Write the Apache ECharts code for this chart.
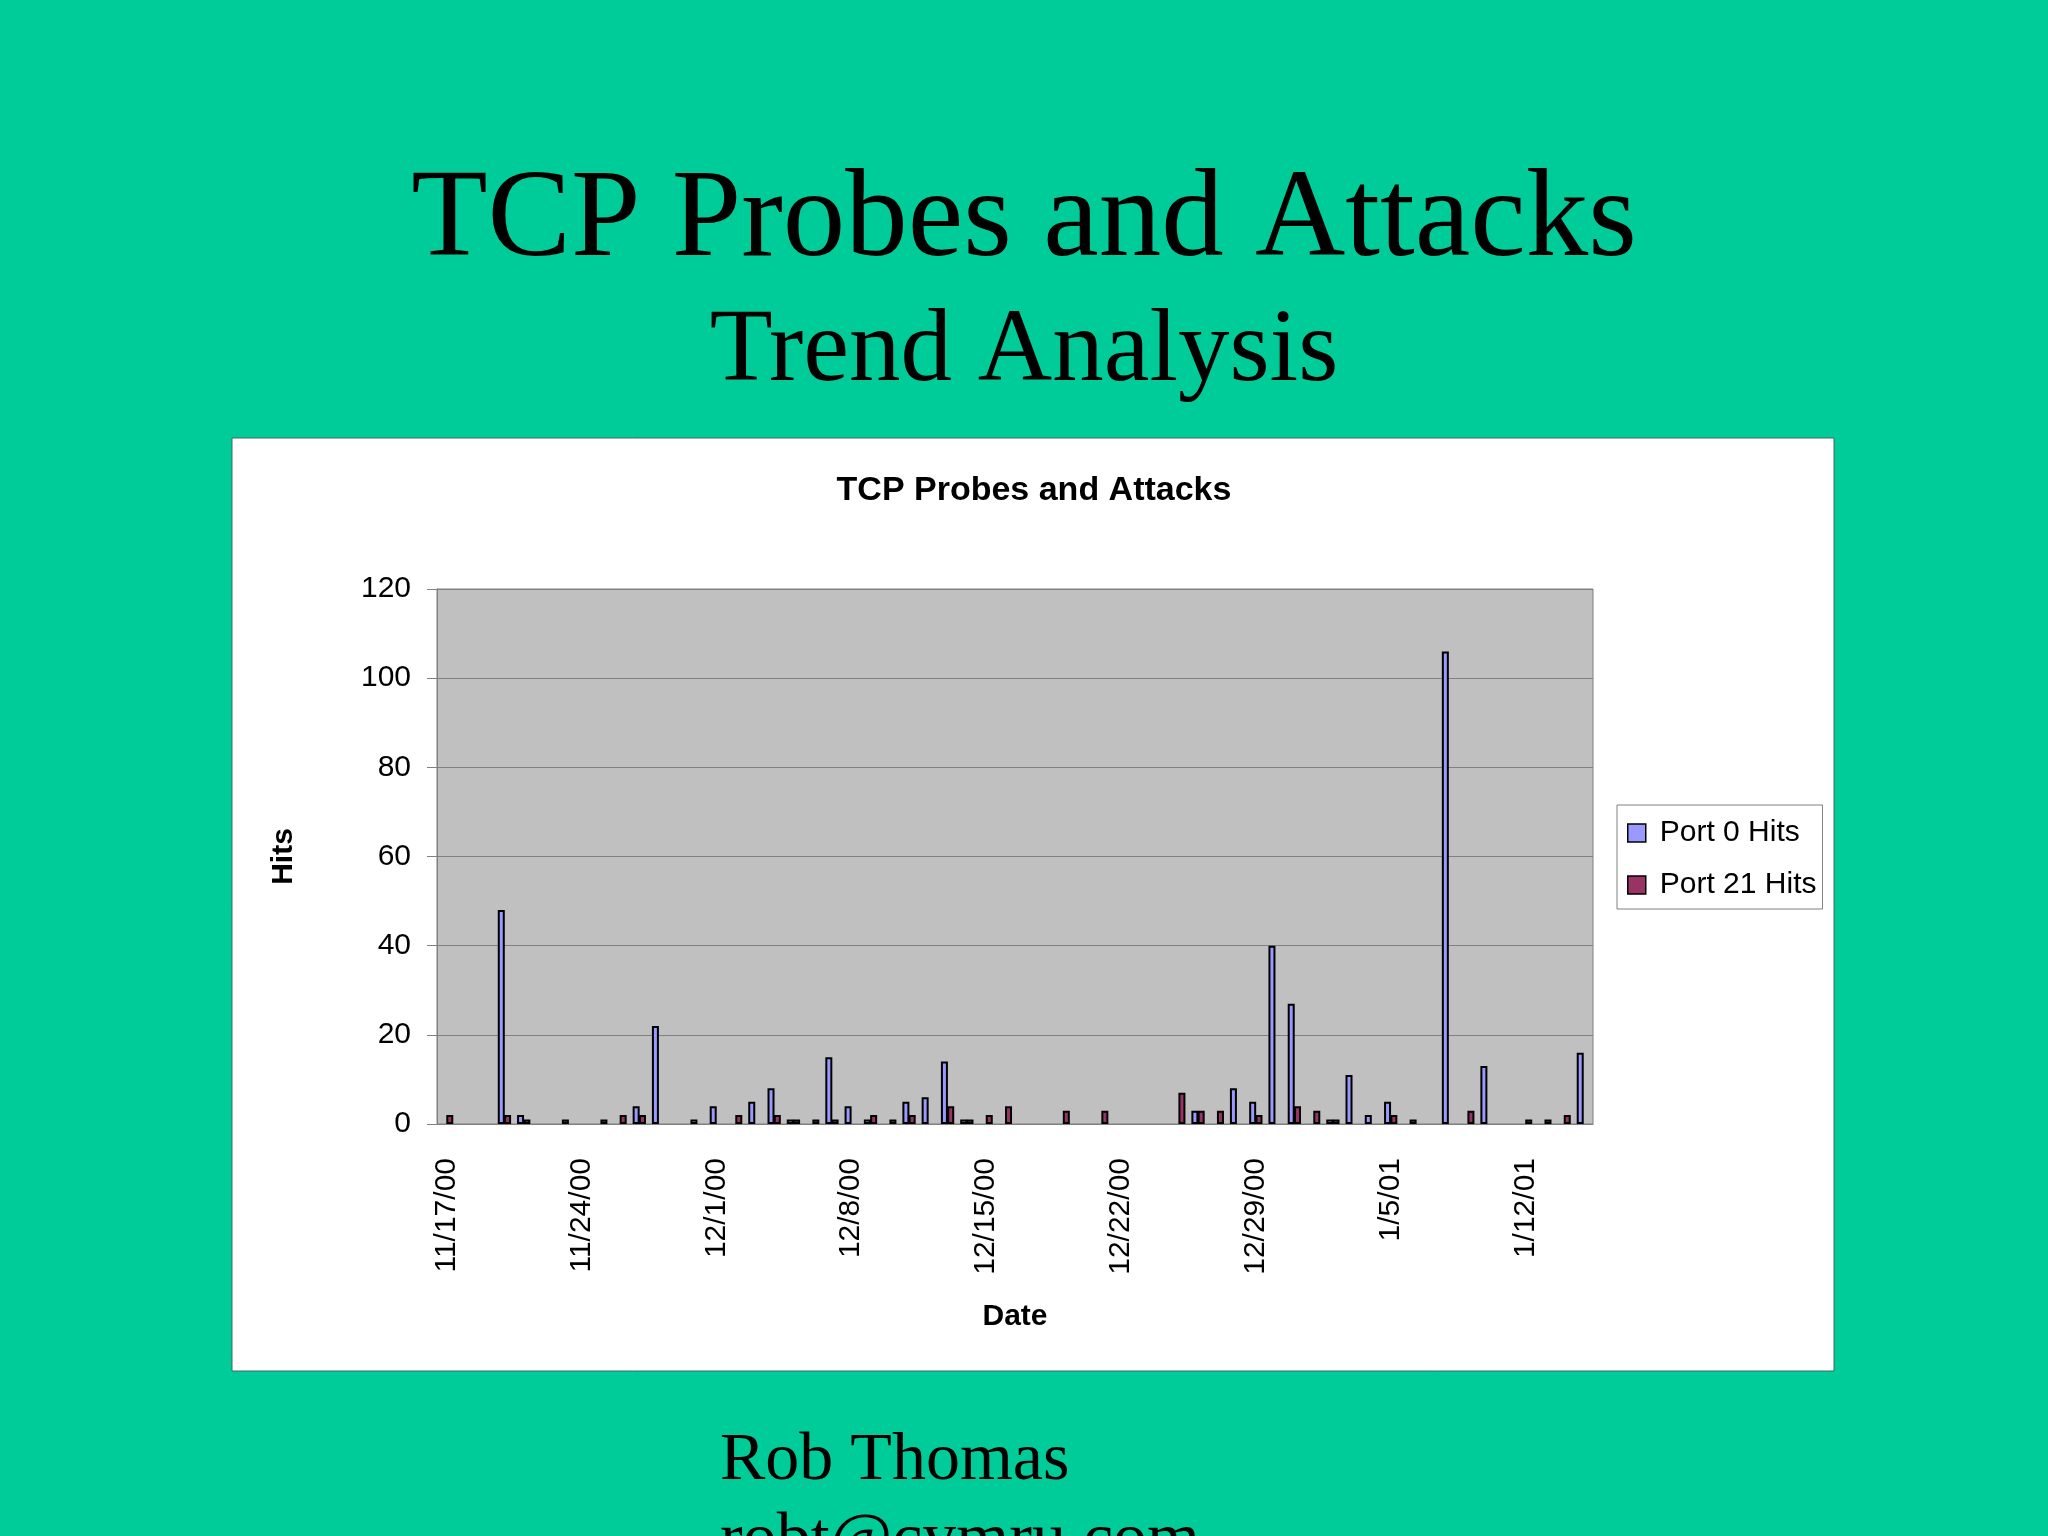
<!DOCTYPE html>
<html>
<head>
<meta charset="utf-8">
<title>TCP Probes and Attacks</title>
<script src="https://cdn.jsdelivr.net/npm/echarts@6/dist/echarts.min.js"></script>
<style>
  html, body { margin: 0; padding: 0; background: #00CC99; }
  #chart { width: 2048px; height: 1536px; }
</style>
</head>
<body>
<div id="chart"></div>
<script>
// one category per day, 11/17/00 .. 1/15/01
const dates = [
  '11/17/00', '11/18/00', '11/19/00', '11/20/00', '11/21/00', '11/22/00', '11/23/00',
  '11/24/00', '11/25/00', '11/26/00', '11/27/00', '11/28/00', '11/29/00', '11/30/00',
  '12/1/00', '12/2/00', '12/3/00', '12/4/00', '12/5/00', '12/6/00', '12/7/00',
  '12/8/00', '12/9/00', '12/10/00', '12/11/00', '12/12/00', '12/13/00', '12/14/00',
  '12/15/00', '12/16/00', '12/17/00', '12/18/00', '12/19/00', '12/20/00', '12/21/00',
  '12/22/00', '12/23/00', '12/24/00', '12/25/00', '12/26/00', '12/27/00', '12/28/00',
  '12/29/00', '12/30/00', '12/31/00', '1/1/01', '1/2/01', '1/3/01', '1/4/01',
  '1/5/01', '1/6/01', '1/7/01', '1/8/01', '1/9/01', '1/10/01', '1/11/01',
  '1/12/01', '1/13/01', '1/14/01', '1/15/01'
];

// Port 0 hits per day
const port0Hits = [
  0, 0, 0, 48, 2, 0, 0,
  0, 0, 0, 4, 22, 0, 1,
  4, 0, 5, 8, 1, 0, 15,
  4, 1, 0, 5, 6, 14, 1,
  0, 0, 0, 0, 0, 0, 0,
  0, 0, 0, 0, 3, 0, 8,
  5, 40, 27, 0, 1, 11, 2,
  5, 0, 0, 106, 0, 13, 0,
  0, 0, 0, 16
];

// Port 21 hits per day
const port21Hits = [
  2, 0, 0, 2, 1, 0, 1,
  0, 1, 2, 2, 0, 0, 0,
  0, 2, 0, 2, 1, 1, 1,
  0, 2, 1, 2, 0, 4, 1,
  2, 4, 0, 0, 3, 0, 3,
  0, 0, 0, 7, 3, 3, 0,
  2, 0, 4, 3, 1, 0, 0,
  2, 1, 0, 0, 3, 0, 0,
  1, 1, 2, 0
];

const yTicks = { min: 0, max: 120, step: 20 };

const SERIF = '"Liberation Serif", "Times New Roman", serif';
const SANS = '"Liberation Sans", Arial, sans-serif';

// empty days draw no bar
const noZero = arr => arr.map(v => (v === 0 ? '-' : v));

const chart = echarts.init(document.getElementById('chart'), null, { renderer: 'canvas' });

const option = {
  backgroundColor: '#00CC99',
  animation: false,
  graphic: [
    // white chart box
    {
      type: 'rect', z: -10,
      shape: { x: 232, y: 438, width: 1602, height: 933 },
      style: { fill: '#ffffff', stroke: '#3d6b60', lineWidth: 1 }
    },
    {
      type: 'text', z: 10,
      style: { text: 'TCP Probes and Attacks', x: 1024, y: 222, textAlign: 'center', textVerticalAlign: 'middle',
        font: '125px ' + SERIF, fill: '#000' }
    },
    {
      type: 'text', z: 10,
      style: { text: 'Trend Analysis', x: 1024, y: 353, textAlign: 'center', textVerticalAlign: 'middle',
        font: '103px ' + SERIF, fill: '#000' }
    },
    {
      type: 'text', z: 10,
      style: { text: 'TCP Probes and Attacks', x: 1034, y: 491, textAlign: 'center', textVerticalAlign: 'middle',
        font: 'bold 34px ' + SANS, fill: '#000' }
    },
    {
      type: 'text', z: 10,
      style: { text: 'Rob Thomas', x: 720, y: 1461, textAlign: 'left', textVerticalAlign: 'middle',
        font: '68px ' + SERIF, fill: '#000' }
    },
    {
      type: 'text', z: 10,
      style: { text: 'robt@cymru.com', x: 720, y: 1541, textAlign: 'left', textVerticalAlign: 'middle',
        font: '68px ' + SERIF, fill: '#000' }
    }
  ],
  legend: {
    data: ['Port 0 Hits', 'Port 21 Hits'],
    orient: 'vertical',
    left: 1617,
    top: 805,
    icon: 'rect',
    itemWidth: 18,
    itemHeight: 18,
    itemGap: 22,
    backgroundColor: '#ffffff',
    borderColor: '#808080',
    borderWidth: 1,
    padding: [13, 6, 9, 10],
    itemStyle: { borderColor: '#000', borderWidth: 1.5 },
    textStyle: { fontSize: 30, fontFamily: SANS, color: '#000', lineHeight: 30, padding: [0, 0, 0, 9] }
  },
  grid: {
    left: 437, top: 589, width: 1156, height: 535,
    show: true, backgroundColor: '#C0C0C0', borderColor: '#808080', borderWidth: 1
  },
  xAxis: {
    type: 'category',
    data: dates,
    name: 'Date',
    nameLocation: 'middle',
    nameGap: 178,
    nameTextStyle: { fontSize: 30, fontWeight: 'bold', fontFamily: SANS, color: '#000' },
    axisLine: { lineStyle: { color: '#808080', width: 1 } },
    axisTick: { interval: 6, length: 10, lineStyle: { color: '#808080' } },
    axisLabel: { interval: 6, rotate: 90, margin: 34, fontSize: 30, fontFamily: SANS, color: '#000' },
    splitLine: { show: false }
  },
  yAxis: {
    type: 'value',
    min: yTicks.min,
    max: yTicks.max,
    interval: yTicks.step,
    name: 'Hits',
    nameLocation: 'middle',
    nameGap: 138,
    nameTextStyle: { fontSize: 30, fontWeight: 'bold', fontFamily: SANS, color: '#000' },
    axisLine: { show: true, lineStyle: { color: '#808080', width: 1 } },
    axisTick: { show: true, length: 10, lineStyle: { color: '#808080' } },
    axisLabel: { margin: 26, fontSize: 30, fontFamily: SANS, color: '#000' },
    splitLine: { lineStyle: { color: '#808080', width: 1 } }
  },
  series: [
    {
      name: 'Port 0 Hits',
      type: 'bar',
      data: noZero(port0Hits),
      barWidth: 7,
      barGap: '-10%',
      itemStyle: { color: '#9999FF', borderColor: '#000', borderWidth: 2 }
    },
    {
      name: 'Port 21 Hits',
      type: 'bar',
      data: noZero(port21Hits),
      barWidth: 7,
      barGap: '-10%',
      itemStyle: { color: '#993366', borderColor: '#000', borderWidth: 2 }
    }
  ]
};

chart.setOption(option);
</script>
</body>
</html>
